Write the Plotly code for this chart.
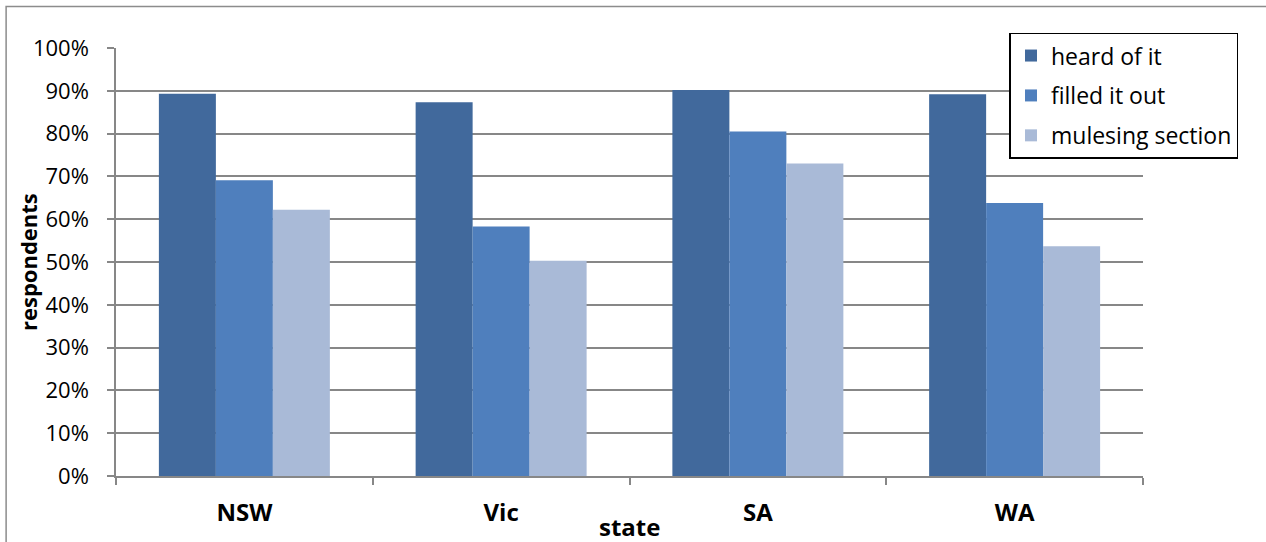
import plotly.graph_objects as go

states = ["NSW", "Vic", "SA", "WA"]
heard_of_it = [0.893, 0.873, 0.902, 0.892]
filled_it_out = [0.691, 0.583, 0.805, 0.638]
mulesing_section = [0.622, 0.503, 0.730, 0.537]
y_ticks = [i / 10 for i in range(11)]
y_tick_labels = [f"{i * 10}%" for i in range(11)]

series = [
    ("heard of it", heard_of_it, "#41699C"),
    ("filled it out", filled_it_out, "#4F7FBD"),
    ("mulesing section", mulesing_section, "#A9BAD7"),
]

FONT = "Open Sans"
GRID = "#878787"

fig = go.Figure()
for i, (name, vals, color) in enumerate(series):
    fig.add_trace(go.Bar(
        x=states, y=vals, name=name,
        marker=dict(color=color, line=dict(width=0)),
        legendgroup=f"g{i}",
    ))

fig.update_layout(
    width=1266, height=542,
    margin=dict(l=116, r=123, t=48, b=66, pad=0),
    paper_bgcolor="white", plot_bgcolor="white",
    barmode="group", bargap=0.334, bargroupgap=0,
    font=dict(family=FONT, size=22, color="black"),
    showlegend=True,
    legend=dict(
        x=0.87, y=1.036, xanchor="left", yanchor="top",
        bgcolor="white", bordercolor="black", borderwidth=1.5,
        font=dict(family=FONT, size=23, color="black"),
        tracegroupgap=7, traceorder="grouped",
        itemsizing="constant",
    ),
    xaxis=dict(
        type="category", tickson="boundaries",
        ticks="outside", ticklen=7, tickcolor=GRID, tickwidth=1.5,
        showline=True, linecolor=GRID, linewidth=1.5,
        tickfont=dict(family=FONT, size=24, color="black", weight="bold"),
        ticklabelstandoff=14,
        showgrid=False, range=[-0.5, 3.5],
    ),
    yaxis=dict(
        range=[0, 1.0], tickvals=y_ticks, ticktext=y_tick_labels,
        ticks="outside", ticklen=7, tickcolor=GRID, tickwidth=1.5,
        showline=True, linecolor=GRID, linewidth=1.5,
        showgrid=True, gridcolor=GRID, gridwidth=1.5,
        tickfont=dict(family=FONT, size=22, color="black"),
        ticklabelstandoff=14,
        zeroline=False,
    ),
)

# y axis title, rotated, tucked against the tick labels
fig.add_annotation(
    text="<b>respondents</b>", xref="paper", yref="paper",
    x=-0.0857, y=0.5, xanchor="center", yanchor="middle",
    textangle=-90, showarrow=False,
    font=dict(family=FONT, size=22, color="black"),
)

# x axis title sits among the category labels
fig.add_annotation(
    text="<b>state</b>", xref="paper", yref="paper",
    x=0.5, y=-0.118, xanchor="center", yanchor="middle", showarrow=False,
    font=dict(family=FONT, size=24, color="black"),
)

# chart area border
fig.add_shape(
    type="rect", xref="paper", yref="paper",
    x0=-0.107, x1=1.125, y0=-0.17, y1=1.097,
    line=dict(color="#8C8C8C", width=1.5), fillcolor="rgba(0,0,0,0)",
    layer="below",
)

fig.write_html("out.html")
